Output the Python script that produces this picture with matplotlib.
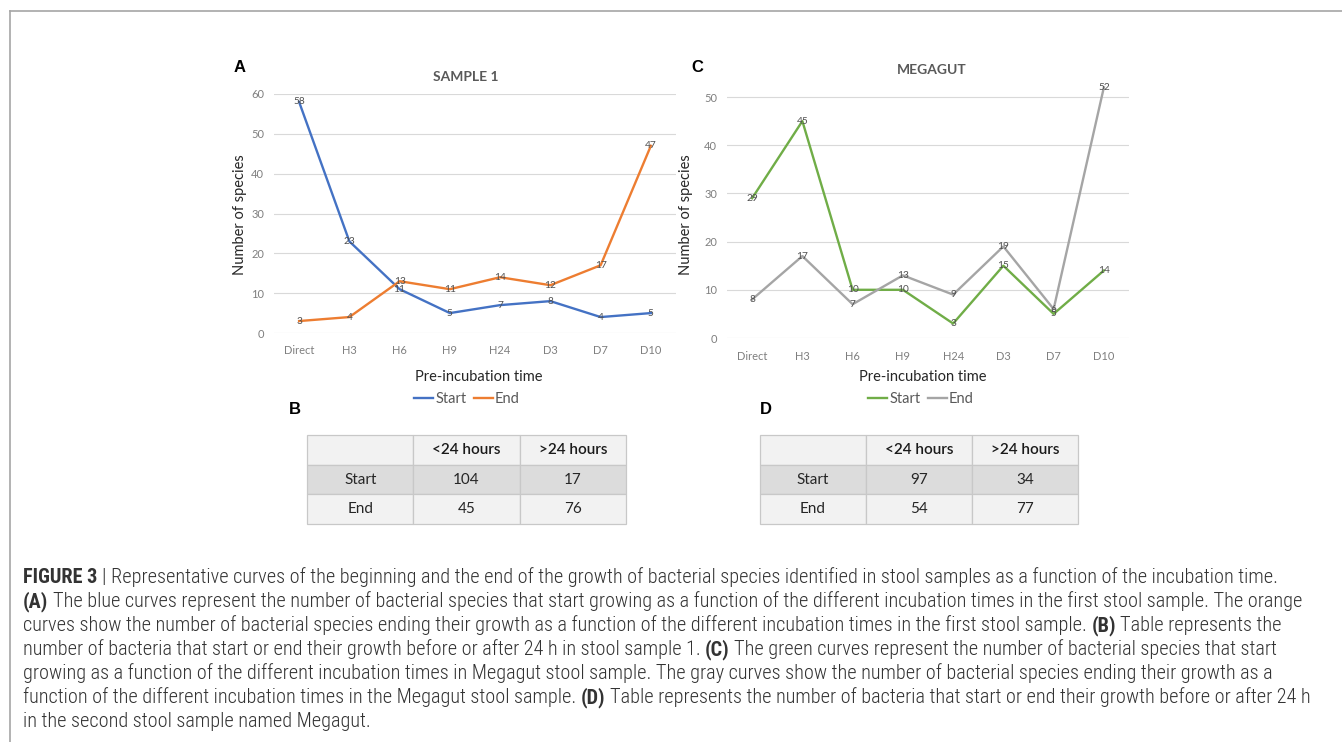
import matplotlib
matplotlib.use('Agg')
import matplotlib.pyplot as plt
from matplotlib import font_manager
from matplotlib.lines import Line2D
from matplotlib.patches import Rectangle

# ---- data ----
times = ['Direct', 'H3', 'H6', 'H9', 'H24', 'D3', 'D7', 'D10']
s1_start = [58, 23, 11, 5, 7, 8, 4, 5]
s1_end = [3, 4, 13, 11, 14, 12, 17, 47]
mg_start = [29, 45, 10, 10, 3, 15, 5, 14]
mg_end = [8, 17, 7, 13, 9, 19, 6, 52]

tab_cols = ['<24 hours', '>24 hours']
tab_rows = ['Start', 'End']
s1_table = [[104, 17], [45, 76]]
mg_table = [[97, 34], [54, 77]]

caption = [
    [('FIGURE 3', True), (' | Representative curves of the beginning and the end of the growth of bacterial species identified in stool samples as a function of the incubation time.', False)],
    [('(A)', True), (' The blue curves represent the number of bacterial species that start growing as a function of the different incubation times in the first stool sample. The orange', False)],
    [('curves show the number of bacterial species ending their growth as a function of the different incubation times in the first stool sample. ', False), ('(B)', True), (' Table represents the', False)],
    [('number of bacteria that start or end their growth before or after 24 h in stool sample 1. ', False), ('(C)', True), (' The green curves represent the number of bacterial species that start', False)],
    [('growing as a function of the different incubation times in Megagut stool sample. The gray curves show the number of bacterial species ending their growth as a', False)],
    [('function of the different incubation times in the Megagut stool sample. ', False), ('(D)', True), (' Table represents the number of bacteria that start or end their growth before or after 24 h', False)],
    [('in the second stool sample named Megagut.', False)],
]
# right ends of the caption lines (px)
caption_ends = [1316, 1310, 1291, 1291, 1293, 1330, 227]

W, H = 1342, 742
fig = plt.figure(figsize=(W / 100, H / 100), dpi=100)
fig.patch.set_facecolor('white')

names = {f.name for f in font_manager.fontManager.ttflist}
chart_font = 'Lato' if 'Lato' in names else 'DejaVu Sans'
cap_font = 'Liberation Sans'
for cand in ['Roboto Condensed', 'Liberation Sans Narrow', 'Roboto']:
    if cand in names:
        cap_font = cand
        break


def fx(x):
    return x / W


def fy(y):
    return 1 - y / H


def box(x0, y0, x1, y1):
    return [fx(x0), fy(y1), (x1 - x0) / W, (y1 - y0) / H]


# frame lines
fig.add_artist(Line2D([fx(10), fx(10)], [fy(11), 0], color='#a6a6a6', lw=1.2))
fig.add_artist(Line2D([fx(10), 1], [fy(11), fy(11)], color='#a6a6a6', lw=1.2))


def line_panel(rect, start, end, c1, c2, ymax, yticks, title, title_xy, letter_xy, letter,
               ylab_x, xlab_xy, leg_xy):
    ax = fig.add_axes(rect)
    x = list(range(len(times)))
    l1, = ax.plot(x, start, color=c1, lw=1.7, zorder=3, label='Start')
    l2, = ax.plot(x, end, color=c2, lw=1.7, zorder=3, label='End')
    for vals in (start, end):
        for i, v in enumerate(vals):
            ax.text(i, v, str(v), ha='center', va='center', fontsize=7.3, color='#505050',
                    family=chart_font, zorder=4)
    ax.set_xlim(-0.5, len(times) - 0.5)
    ax.set_ylim(0, ymax)
    ax.set_yticks(yticks)
    ax.set_xticks(x)
    ax.set_xticklabels(times)
    ax.tick_params(length=0, labelsize=8, labelcolor='#7f7f7f')
    ax.tick_params(axis='y', pad=7)
    ax.tick_params(axis='x', pad=9)
    for lab in ax.get_xticklabels() + ax.get_yticklabels():
        lab.set_family(chart_font)
    ax.grid(axis='y', color='#d9d9d9', lw=0.8)
    ax.set_axisbelow(True)
    for s in ax.spines.values():
        s.set_visible(False)
    fig.text(fx(title_xy[0]), fy(title_xy[1]), title, ha='center', va='center', fontsize=10,
             weight='bold', color='#595959', family=chart_font)
    fig.text(fx(letter_xy[0]), fy(letter_xy[1]), letter, ha='center', va='center', fontsize=12,
             weight='bold', color='black', family='Liberation Sans')
    fig.text(fx(ylab_x), fy(215), 'Number of species', rotation=90, ha='center', va='center',
             fontsize=10.5, color='#262626', family=chart_font)
    fig.text(fx(xlab_xy[0]), fy(xlab_xy[1]), 'Pre-incubation time', ha='center', va='center',
             fontsize=10.5, color='#262626', family=chart_font)
    fig.legend(handles=[l1, l2], loc='center', bbox_to_anchor=(fx(leg_xy[0]), fy(leg_xy[1])),
               ncol=2, frameon=False, handlelength=1.3, handletextpad=0.15, columnspacing=0.5,
               prop={'family': chart_font, 'size': 10.5}, labelcolor='#595959')
    return ax


line_panel(box(274, 94, 676, 333), s1_start, s1_end, '#4472C4', '#ED7D31', 60,
           range(0, 61, 10), 'SAMPLE 1', (466, 77), (240, 68), 'A', 240, (479, 377), (467, 399))
line_panel(box(727, 338 - 53 * 4.82, 1129, 338), mg_start, mg_end, '#70AD47', '#A5A5A5', 53,
           range(0, 51, 10), 'MEGAGUT', (932, 70), (697, 68), 'C', 686, (923, 377), (921, 399))

fig.text(fx(295), fy(410), 'B', ha='center', va='center', fontsize=12, weight='bold',
         family='Liberation Sans')
fig.text(fx(766), fy(410), 'D', ha='center', va='center', fontsize=12, weight='bold',
         family='Liberation Sans')


def table_panel(rect, values):
    ax = fig.add_axes(rect)
    ax.set_xlim(0, 3)
    ax.set_ylim(3, 0)
    ax.axis('off')
    fills = ['#f2f2f2', '#dcdcdc', '#f2f2f2']
    for r in range(3):
        for c in range(3):
            ax.add_patch(Rectangle((c, r), 1, 1, facecolor=fills[r], edgecolor='#c8c8c8',
                                   lw=0.9, clip_on=False))
    for c, name in enumerate(tab_cols):
        ax.text(c + 1.5, 0.5, name, ha='center', va='center', fontsize=11, color='#1a1a1a',
                family=chart_font, weight='semibold')
    for r, name in enumerate(tab_rows):
        ax.text(0.5, r + 1.5, name, ha='center', va='center', fontsize=11, color='#262626',
                family=chart_font)
        for c in range(2):
            ax.text(c + 1.5, r + 1.5, str(values[r][c]), ha='center', va='center', fontsize=11,
                    color='#262626', family=chart_font)


table_panel(box(307, 435, 626, 524), s1_table)
table_panel(box(760, 435, 1078, 524), mg_table)

# ---- caption, size fitted to the reference line lengths ----
renderer = fig.canvas.get_renderer()


def weight_of(bold):
    return 'bold' if bold else 'light'


def text_w(s, size, bold):
    t = fig.text(0, 0, s, fontsize=size, family=cap_font, weight=weight_of(bold))
    w = t.get_window_extent(renderer).width
    t.remove()
    return w


def seg_width(s, size, bold):
    sp = text_w('x x', size, bold) - text_w('xx', size, bold)
    core = s.strip()
    lead = len(s) - len(s.lstrip())
    trail = len(s) - len(s.rstrip())
    return lead, core, trail, sp, (text_w(core, size, bold) if core else 0)


def line_width(parts, size):
    total = 0
    for s, b in parts:
        lead, core, trail, sp, w = seg_width(s, size, b)
        total += (lead + trail) * sp + w
    return total


base = 12
measured = [line_width(p, base) for p in caption[:6]]
targets = [e - 23 for e in caption_ends[:6]]
cap_size = base * min(sum(targets) / sum(measured),
                      min(t / m for t, m in zip([1316] * 6, [m + 23 for m in measured])) * 1.0)
cap_size = min(cap_size, base * min((1335 - 23) / m for m in measured))

for k, parts in enumerate(caption):
    x = 23
    y = 583 + 24 * k
    for s, b in parts:
        lead, core, trail, sp, w = seg_width(s, cap_size, b)
        x += lead * sp
        if core:
            fig.text(fx(x), fy(y), core, fontsize=cap_size, family=cap_font,
                     weight=weight_of(b), color='#333333', va='baseline', ha='left')
        x += w + trail * sp

fig.savefig('out.png', dpi=100, facecolor='white')
